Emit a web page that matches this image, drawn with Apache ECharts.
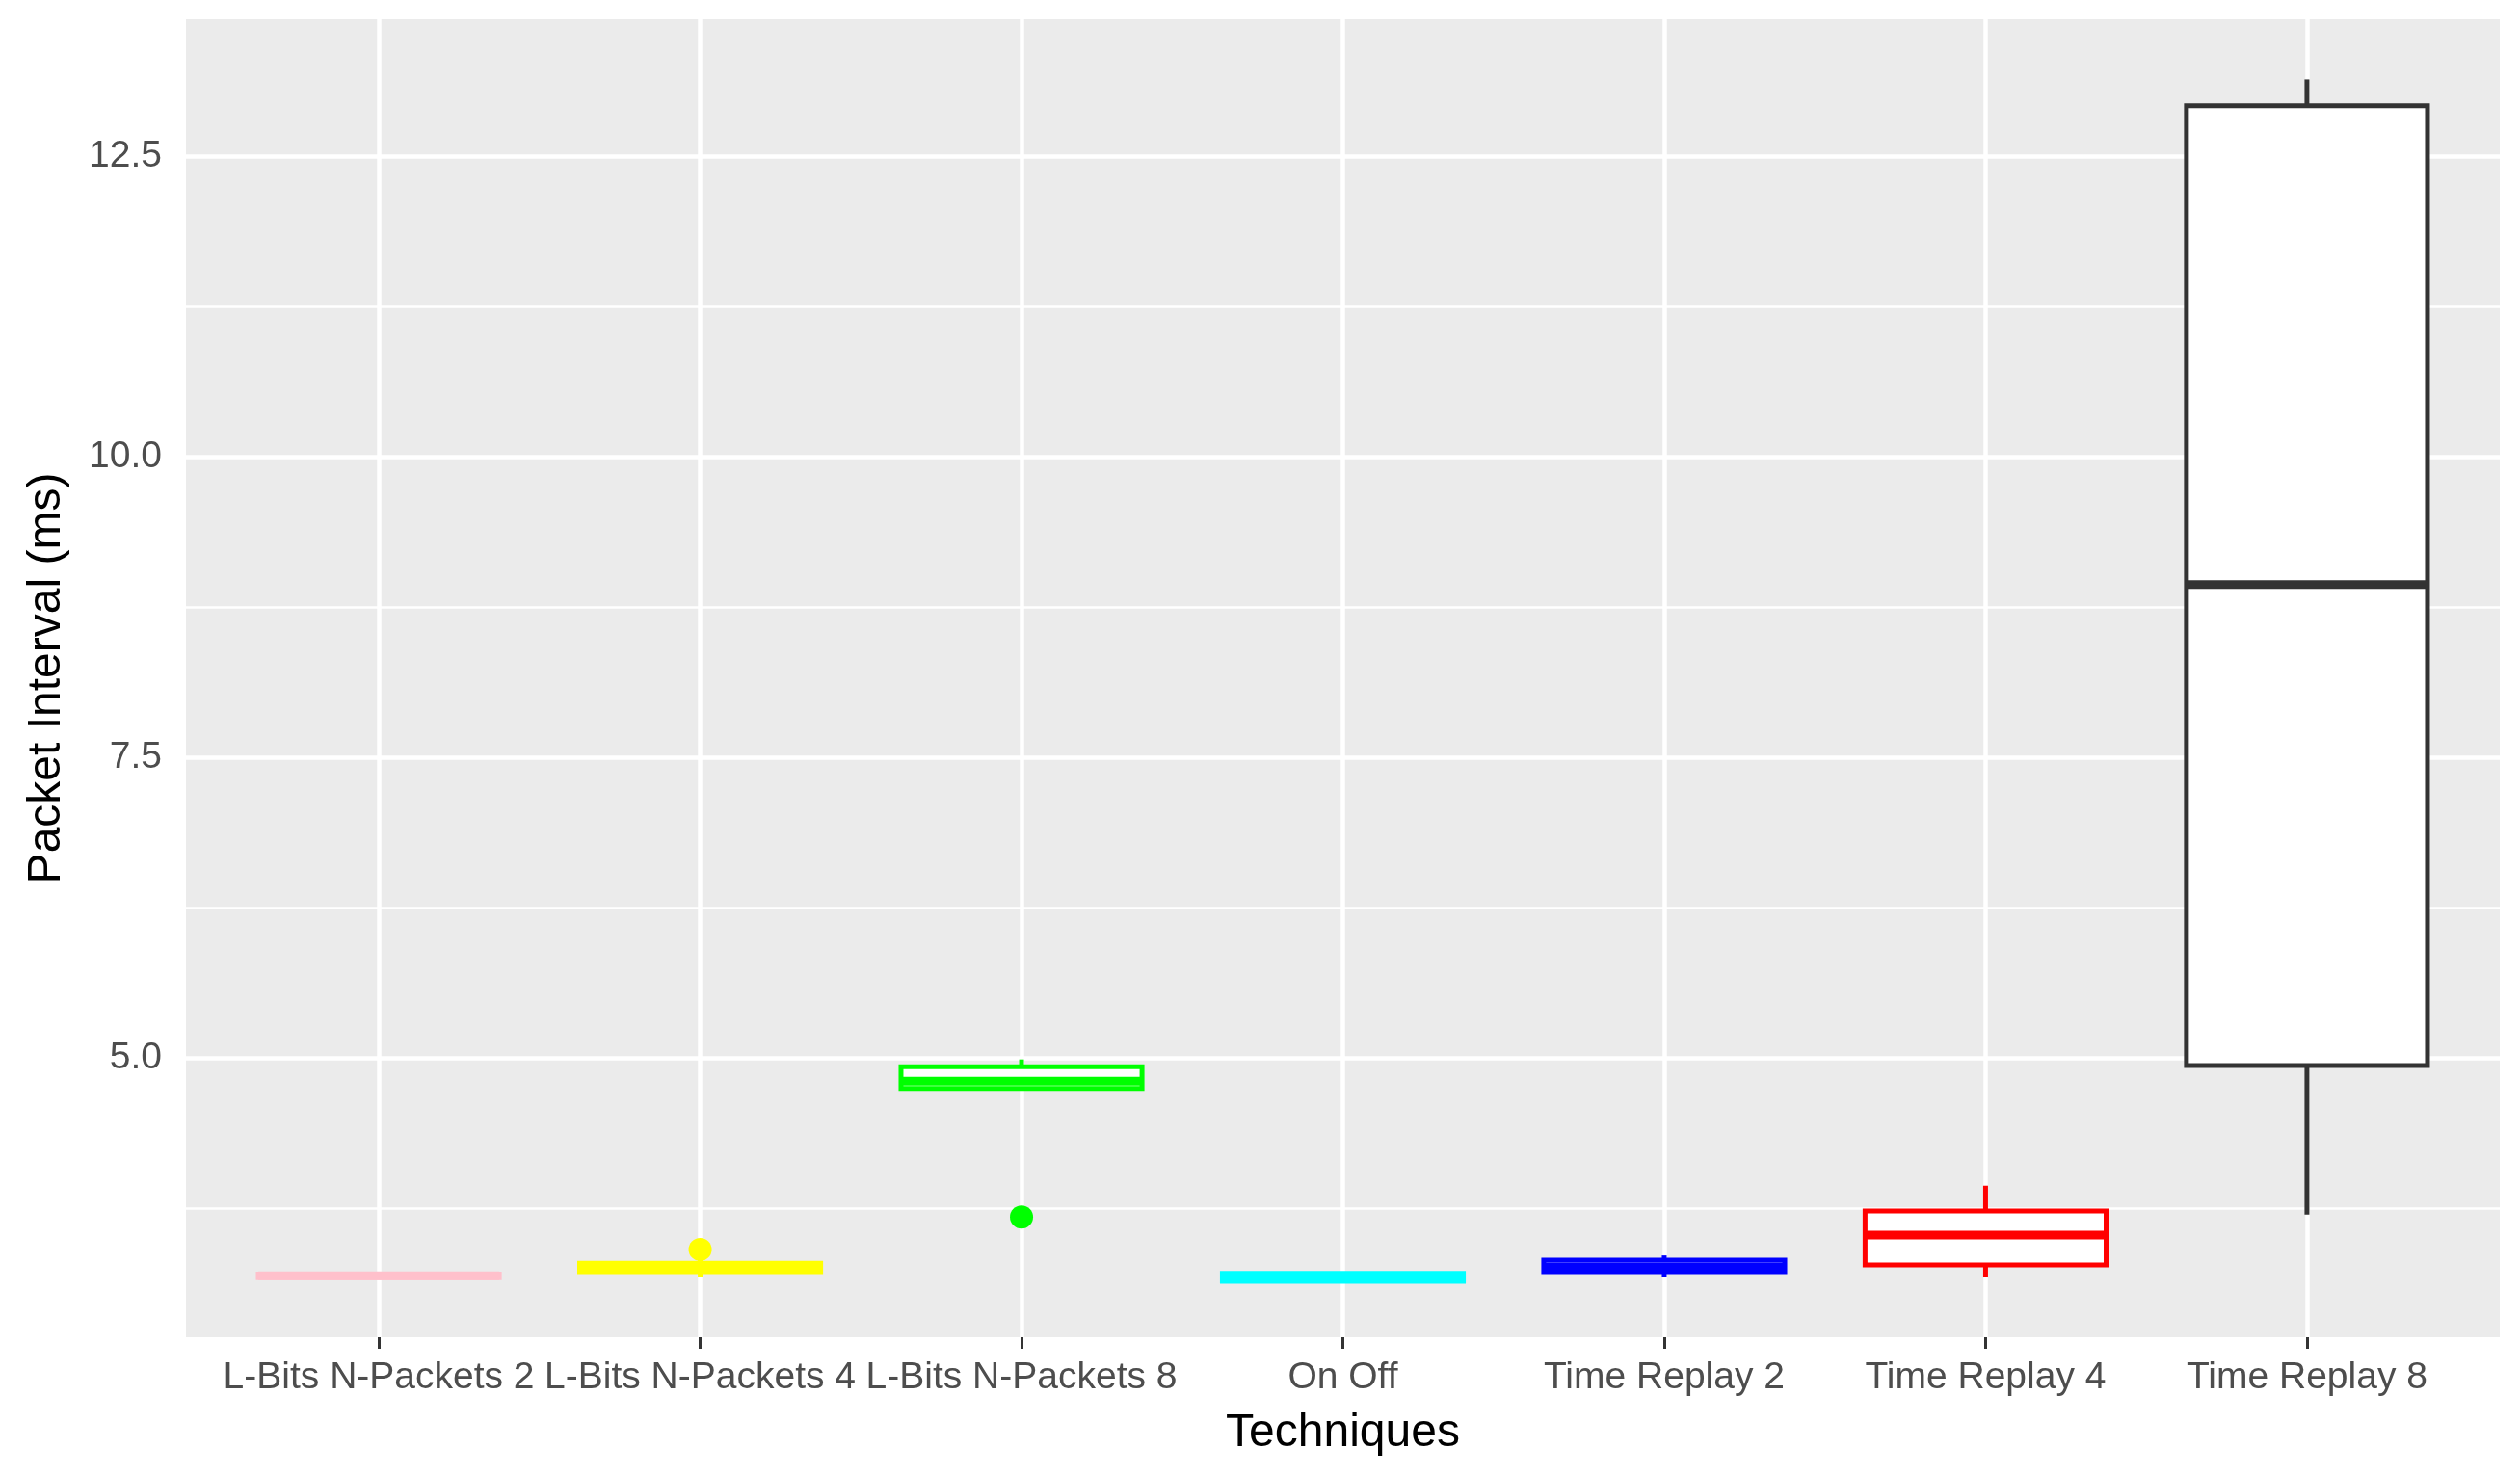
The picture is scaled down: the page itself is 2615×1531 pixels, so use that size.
<!DOCTYPE html>
<html>
<head>
<meta charset="utf-8">
<script src="https://cdn.jsdelivr.net/npm/echarts@6/dist/echarts.min.js"></script>
<style>
  html, body { margin: 0; padding: 0; background: #fff; }
  #chart { width: 2615px; height: 1531px; }
</style>
</head>
<body>
<div id="chart"></div>
<script>
// 类目
const categories = [
  "L-Bits N-Packets 2",
  "L-Bits N-Packets 4",
  "L-Bits N-Packets 8",
  "On Off",
  "Time Replay 2",
  "Time Replay 4",
  "Time Replay 8",
];
const boxColors = ["#FFC0CB", "#FFFF00", "#00FF00", "#00FFFF", "#0000FF", "#FF0000", "#333333"];
// [min, q1, median, q3, max]
const boxStats = [
  [3.17, 3.175, 3.19, 3.205, 3.21],
  [3.18, 3.225, 3.26, 3.295, 3.33],
  [4.74, 4.75, 4.81, 4.93, 4.99],
  [3.14, 3.145, 3.175, 3.21, 3.215],
  [3.18, 3.225, 3.265, 3.32, 3.36],
  [3.18, 3.28, 3.53, 3.73, 3.94],
  [3.70, 4.94, 8.94, 12.92, 13.14],
];
// 离群点 [类目, 值]
const outliers = [
  ["L-Bits N-Packets 4", 3.41],
  ["L-Bits N-Packets 8", 3.68],
];
const yTicks = [5.0, 7.5, 10.0, 12.5];
const yMinorTicks = [3.75, 6.25, 8.75, 11.25];
const yMin = 2.68;
const yMax = 13.64;

// 类目位置（ggplot 离散轴两侧各扩展 0.6）
const catIndex = categories.map((c, i) => i);

const chart = echarts.init(document.getElementById("chart"));

/**
 * ggplot 风格箱线图（无须线端帽）
 */
const renderBox = (params, api) => {
  const idx = api.value(0);
  const x = api.coord([idx, 0])[0];
  const half = (api.size([1, 0])[0] * 0.75) / 2;
  const y = (k) => api.coord([idx, api.value(k)])[1];
  const color = boxColors[idx];
  const lineStyle = { stroke: color, lineWidth: 5 };
  return {
    type: "group",
    children: [
      { type: "line", shape: { x1: x, y1: y(5), x2: x, y2: y(4) }, style: lineStyle },
      { type: "line", shape: { x1: x, y1: y(2), x2: x, y2: y(1) }, style: lineStyle },
      {
        type: "rect",
        shape: { x: x - half, y: y(4), width: half * 2, height: y(2) - y(4) },
        style: { fill: "#fff", stroke: color, lineWidth: 5 },
      },
      {
        type: "line",
        shape: { x1: x - half, y1: y(3), x2: x + half, y2: y(3) },
        style: { stroke: color, lineWidth: 9 },
      },
    ],
  };
};

// 网格线
const gridLines = [
  ...yMinorTicks.map((v) => ({ yAxis: v, lineStyle: { width: 2.5 } })),
  ...yTicks.map((v) => ({ yAxis: v, lineStyle: { width: 4.5 } })),
  ...catIndex.map((i) => ({ xAxis: i, lineStyle: { width: 4.5 } })),
];

const tickLabelStyle = {
  fontFamily: "Liberation Sans",
  fontSize: 39,
  color: "#4D4D4D",
};

const option = {
  animation: false,
  grid: { left: 193, right: 21, top: 20, bottom: 143, show: true, backgroundColor: "#EBEBEB", borderWidth: 0 },
  xAxis: {
    type: "value",
    min: -0.6,
    max: categories.length - 0.4,
    name: "Techniques",
    nameLocation: "middle",
    nameGap: 76,
    nameTextStyle: { fontFamily: "Liberation Sans", fontSize: 48, color: "#000" },
    axisLine: { show: false },
    axisTick: { show: true, length: 12, customValues: catIndex, lineStyle: { color: "#333", width: 3 } },
    axisLabel: {
      ...tickLabelStyle,
      margin: 23,
      customValues: catIndex,
      formatter: (v) => categories[Math.round(v)],
    },
    splitLine: { show: false },
  },
  yAxis: {
    type: "value",
    min: yMin,
    max: yMax,
    name: "Packet Interval (ms)",
    nameLocation: "middle",
    nameGap: 120,
    nameTextStyle: { fontFamily: "Liberation Sans", fontSize: 48, color: "#000" },
    axisLine: { show: false },
    axisTick: { show: true, length: 12, customValues: yTicks, lineStyle: { color: "#333", width: 3 } },
    axisLabel: {
      ...tickLabelStyle,
      margin: 25,
      customValues: yTicks,
      formatter: (v) => v.toFixed(1),
    },
    splitLine: { show: false },
  },
  series: [
    {
      type: "line",
      data: [],
      z: 1,
      markLine: {
        silent: true,
        z: 1,
        symbol: ["none", "none"],
        label: { show: false },
        lineStyle: { color: "#FFFFFF", type: "solid" },
        data: gridLines,
      },
    },
    {
      type: "custom",
      z: 10,
      renderItem: renderBox,
      encode: { x: 0, y: [1, 2, 3, 4, 5] },
      data: boxStats.map((s, i) => [i, ...s]),
    },
    {
      type: "scatter",
      z: 11,
      symbolSize: 24,
      data: outliers.map((o) => ({
        value: [categories.indexOf(o[0]), o[1]],
        itemStyle: { color: boxColors[categories.indexOf(o[0])], opacity: 1 },
      })),
    },
  ],
};

chart.setOption(option);
</script>
</body>
</html>
